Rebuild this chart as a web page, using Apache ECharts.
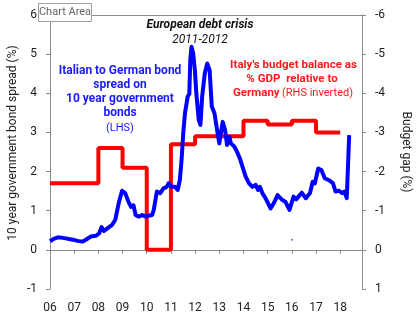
<!DOCTYPE html>
<html><head><meta charset="utf-8">
<script src="https://cdn.jsdelivr.net/npm/echarts@6/dist/echarts.min.js"></script>
<style>html,body{margin:0;padding:0;background:#fff}#c{width:420px;height:321px}</style>
</head><body><div id="c"></div>
<script>
// ---- data ----
const yearTicks = [2006,2007,2008,2009,2010,2011,2012,2013,2014,2015,2016,2017,2018];
const spreadDates = [2006.00,2006.15,2006.33,2006.6,2006.94,2007.14,2007.35,2007.48,2007.69,2007.9,2008.03,2008.13,2008.23,2008.37,2008.57,2008.7,2008.84,2008.98,2009.11,2009.25,2009.35,2009.45,2009.54,2009.67,2009.81,2009.95,2010.08,2010.22,2010.29,2010.42,2010.56,2010.69,2010.83,2010.9,2011.03,2011.17,2011.28,2011.37,2011.44,2011.51,2011.58,2011.69,2011.76,2011.8,2011.85,2011.92,2011.99,2012.05,2012.15,2012.22,2012.29,2012.4,2012.5,2012.6,2012.64,2012.69,2012.8,2012.91,2013.0,2013.14,2013.24,2013.32,2013.42,2013.48,2013.62,2013.76,2013.87,2013.96,2014.09,2014.23,2014.37,2014.5,2014.6,2014.68,2014.78,2014.91,2015.12,2015.25,2015.41,2015.59,2015.73,2015.9,2016.07,2016.18,2016.41,2016.58,2016.75,2016.86,2016.95,2017.09,2017.22,2017.36,2017.56,2017.7,2017.81,2017.95,2018.08,2018.17,2018.27,2018.33,2018.37];
const spreadValues = [0.22,0.28,0.32,0.30,0.26,0.23,0.21,0.26,0.34,0.36,0.42,0.58,0.48,0.55,0.64,0.77,1.19,1.51,1.45,1.22,1.10,1.14,0.89,0.85,0.89,0.85,0.87,0.89,1.02,1.49,1.45,1.57,1.61,1.70,1.61,1.61,1.53,1.79,2.30,2.98,3.49,3.91,3.98,4.85,5.19,5.02,4.59,4.00,3.32,3.19,3.91,4.51,4.76,4.59,4.17,3.66,3.49,3.06,2.72,3.27,3.06,2.68,2.89,2.72,2.64,2.47,2.30,2.12,1.87,1.70,1.61,1.66,1.53,1.61,1.45,1.32,1.06,1.19,1.40,1.28,1.23,1.02,1.36,1.29,1.46,1.32,1.45,1.74,1.70,2.08,2.04,1.83,1.77,1.70,1.49,1.51,1.45,1.49,1.32,1.30,2.93];
const budgetDates = [2006,2008,2009,2010,2011,2012,2014,2015,2016,2017,2018];
const budgetValues = [-1.7,-2.6,-2.1,0,-2.7,-2.9,-3.3,-3.2,-3.3,-3.0,-3.0];
const strayDot = [[2016.0, 0.26]];
const leftName = '10 year government bond spread (%)';
const rightName = 'Budget gap (%)';
const titleLines = ['European debt crisis', '2011-2012'];
const blueNote = ['Italian to German bond', 'spread on', '10 year government', 'bonds'];
const blueNoteTail = '(LHS)';
const redNote = ["Italy's budget balance as", '% GDP  relative to', 'Germany'];
const redNoteTail = '(RHS inverted)';

// ---- chart ----
const FONT = "Roboto, 'Liberation Sans', sans-serif";
const axisGray = '#8c8c8c';
const txt = '#222';
const BLUE_T = '#1a1aff', RED_T = '#ff1a1a';
const chart = echarts.init(document.getElementById('c'), null, {renderer:'canvas'});
const zip = (a,b) => a.map((v,i)=>[v,b[i]]);
const xmin = 2006, xmax = 2018.9;

const g = [];
const addText = (text, x, y, font, fill, align, rot) => g.push({type:'text', x:x, y:y, z:5, rotation:rot||0,
  style:{text:text, font:font, fill:fill, align:align||'center', verticalAlign:'middle'}});
addText(titleLines[0], 200, 25, "italic bold 12px "+FONT, '#111');
addText(titleLines[1], 200, 40, "italic 12px "+FONT, '#111');
const blueY = [71, 85, 99, 113];
blueNote.forEach((t,i)=>addText(t, 120, blueY[i], "bold 12px "+FONT, BLUE_T));
addText(blueNoteTail, 120, 128, "11px "+FONT, BLUE_T);
addText(redNote[0], 293.5, 65, "bold 11.5px "+FONT, RED_T);
addText(redNote[1], 292, 79, "bold 11.5px "+FONT, RED_T);
addText(redNote[2], 233, 93, "bold 11.5px "+FONT, RED_T, 'left');
addText(redNoteTail, 353, 93, "11px "+FONT, RED_T, 'right');
addText(leftName, 13, 143, "12px "+FONT, txt, 'center', Math.PI/2);
g.push({type:'rect', shape:{x:38.5,y:3.5,width:53,height:18}, style:{fill:'#fff',stroke:'#a0a0a0',lineWidth:1}, z:10});
g.push({type:'text', x:65, y:12.5, z:11, style:{text:'Chart Area', font:"11px "+FONT, fill:'#666', align:'center', verticalAlign:'middle'}});

chart.setOption({
  animation:false,
  textStyle:{fontFamily:FONT},
  grid:{left:50, right:54, top:15, bottom:32},
  xAxis:[
    {type:'value', min:xmin, max:xmax, position:'bottom',
     axisLine:{show:false,onZero:false}, axisTick:{show:false}, splitLine:{show:false},
     axisLabel:{customValues:yearTicks, formatter:v=>String(Math.round(v)).slice(2), margin:13, fontSize:12, color:txt, fontFamily:FONT}},
    {type:'value', min:xmin, max:xmax, position:'bottom',
     axisLine:{show:true,onZero:true,onZeroAxisIndex:0,lineStyle:{color:axisGray,width:1}},
     axisTick:{show:true,customValues:yearTicks,length:4,lineStyle:{color:axisGray}},
     axisLabel:{show:false}, splitLine:{show:false}},
    {type:'value', min:xmin, max:xmax, position:'top',
     axisLine:{show:true,onZero:false,lineStyle:{color:axisGray,width:1}},
     axisTick:{show:false}, axisLabel:{show:false}, splitLine:{show:false}}
  ],
  yAxis:[
    {type:'value', min:-1, max:6, interval:1, position:'left',
     axisLine:{show:true,onZero:false,lineStyle:{color:axisGray}},
     axisTick:{show:true,length:4,lineStyle:{color:axisGray}},
     axisLabel:{fontSize:12,color:txt,margin:13,fontFamily:FONT}, splitLine:{show:false}},
    {type:'value', min:-6, max:1, interval:1, position:'right', inverse:true,
     axisLine:{show:true,onZero:false,lineStyle:{color:axisGray}},
     axisTick:{show:true,length:4,lineStyle:{color:axisGray}},
     axisLabel:{fontSize:12,color:txt,margin:13,fontFamily:FONT}, splitLine:{show:false},
     name:rightName, nameLocation:'middle', nameGap:38, nameRotate:-90,
     nameTextStyle:{fontSize:12,color:txt,fontFamily:FONT}}
  ],
  series:[
    {type:'line', name:'budget', xAxisIndex:0, yAxisIndex:1, step:'end', showSymbol:false, symbol:'none',
     data:zip(budgetDates,budgetValues), lineStyle:{color:'#ff0000',width:4}, z:2},
    {type:'line', name:'spread', xAxisIndex:0, yAxisIndex:0, showSymbol:false, symbol:'none',
     data:zip(spreadDates,spreadValues), lineStyle:{color:'#0000ff',width:4,join:'round'}, z:3},
    {type:'scatter', xAxisIndex:0, yAxisIndex:0, data:strayDot, symbolSize:2, itemStyle:{color:'#3333ff'}, z:3}
  ],
  graphic:g
});
</script></body></html>
